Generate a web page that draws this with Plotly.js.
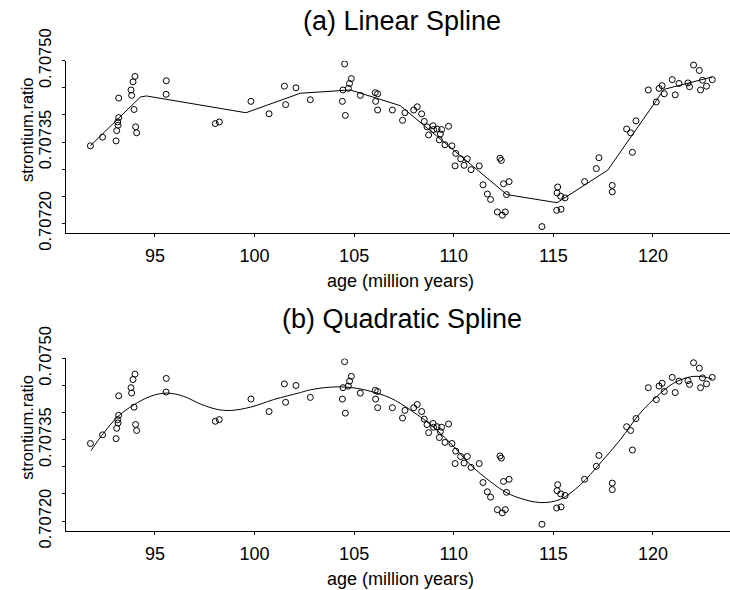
<!DOCTYPE html>
<html>
<head>
<meta charset="utf-8">
<script src="https://cdn.plot.ly/plotly-3.0.1.min.js"></script>
<style>html,body{margin:0;padding:0;background:#fff;}#chart{width:730px;height:590px;}</style>
</head>
<body>
<div id="chart"></div>
<script>
// observed fossil data: age (million years) and strontium ratio
var age = [91.76,92.37,93.05,93.08,93.13,93.15,93.18,93.18,93.80,93.83,93.90,94.00,93.95,94.03,94.08,95.57,95.56,98.03,98.23,99.82,100.73,101.50,101.56,102.08,102.80,104.52,104.44,104.41,104.56,104.71,104.77,104.86,105.31,106.06,106.18,106.08,106.18,106.92,107.43,107.55,107.99,108.17,108.39,108.52,108.66,108.74,108.96,108.99,109.16,109.33,109.28,109.39,109.56,109.74,109.91,110.10,110.07,110.35,110.52,110.68,110.87,111.28,111.47,111.69,111.85,112.19,112.44,112.59,112.32,112.39,112.50,112.78,112.65,114.43,115.22,115.19,115.37,115.59,115.17,115.39,116.57,117.16,117.29,117.96,117.96,118.68,118.88,119.15,118.97,119.77,120.17,120.31,120.46,120.57,120.97,121.12,121.31,121.76,121.84,122.04,122.33,122.39,122.49,122.69,122.98];
var strontium = [0.707343,0.707359,0.707352,0.707371,0.707387,0.707381,0.707395,0.707431,0.707446,0.707436,0.707461,0.707471,0.707410,0.707378,0.707367,0.707463,0.707438,0.707384,0.707387,0.707425,0.707402,0.707453,0.707419,0.707450,0.707428,0.707494,0.707446,0.707425,0.707399,0.707449,0.707458,0.707467,0.707436,0.707441,0.707439,0.707425,0.707409,0.707409,0.707390,0.707404,0.707409,0.707415,0.707402,0.707388,0.707378,0.707363,0.707380,0.707373,0.707374,0.707365,0.707354,0.707373,0.707345,0.707379,0.707343,0.707329,0.707306,0.707319,0.707307,0.707319,0.707299,0.707306,0.707271,0.707254,0.707244,0.707221,0.707215,0.707221,0.707320,0.707316,0.707273,0.707277,0.707253,0.707194,0.707267,0.707256,0.707250,0.707247,0.707224,0.707226,0.707277,0.707301,0.707321,0.707270,0.707258,0.707374,0.707367,0.707389,0.707331,0.707446,0.707424,0.707449,0.707454,0.707439,0.707465,0.707437,0.707458,0.707459,0.707452,0.707492,0.707482,0.707446,0.707464,0.707453,0.707465];

// linear spline fit (values at its knots)
var linAge = [91.76,94.27,94.57,99.57,102.30,104.81,107.32,112.67,115.19,117.73,120.20,120.54,122.98];
var linFit = [0.707343,0.707433,0.707435,0.707404,0.707440,0.707446,0.707417,0.707253,0.707238,0.707298,0.707428,0.707447,0.707470];

// quadratic spline fit
var quadAge = [91.79,92.42,93.18,93.93,94.77,95.61,96.44,97.28,98.12,98.79,99.79,100.96,102.30,102.80,103.80,104.64,105.64,106.82,107.82,108.83,109.83,110.83,111.83,112.67,113.34,114.35,115.35,116.36,117.36,118.36,119.36,120.20,121.03,121.88,122.54,122.98];
var quadFit = [0.707330,0.707362,0.707394,0.707414,0.707430,0.707436,0.707430,0.707416,0.707406,0.707404,0.707410,0.707424,0.707437,0.707442,0.707447,0.707447,0.707441,0.707427,0.707405,0.707378,0.707344,0.707304,0.707273,0.707252,0.707242,0.707234,0.707240,0.707267,0.707307,0.707350,0.707399,0.707430,0.707454,0.707466,0.707466,0.707462];

var xTicks = [95,100,105,110,115,120];
var yTicks = [0.70720,0.70725,0.70730,0.70735,0.70740,0.70745,0.70750];
var yTickText = ['0.70720','','','0.70735','','','0.70750'];
var titles = ['(a) Linear Spline','(b) Quadratic Spline'];
var xTitle = 'age (million years)';
var yTitle = 'strontium.ratio';

var W = 730, H = 590;
var FONT = 'Liberation Sans, Arial, sans-serif';
var NARROW = 'Liberation Sans Narrow, Arial Narrow, Liberation Sans, sans-serif';

var markerStyle = {symbol:'circle-open', size:6, color:'#000', line:{width:1, color:'#000'}};
var traces = [
  {x:age, y:strontium, mode:'markers', type:'scatter', marker:markerStyle, xaxis:'x', yaxis:'y'},
  {x:linAge, y:linFit, mode:'lines', type:'scatter', line:{color:'#000', width:1}, xaxis:'x', yaxis:'y'},
  {x:age, y:strontium, mode:'markers', type:'scatter', marker:markerStyle, xaxis:'x2', yaxis:'y2'},
  {x:quadAge, y:quadFit, mode:'lines', type:'scatter', line:{color:'#000', width:1, shape:'spline', smoothing:1}, xaxis:'x2', yaxis:'y2'}
];

function xAx(anchor){
  return {anchor:anchor, domain:[65.7/W, 1], range:[90.52,123.87], tickvals:xTicks, ticktext:xTicks.map(String),
    ticks:'outside', ticklen:3, tickwidth:1, tickcolor:'#000', showline:true, linecolor:'#000', linewidth:1,
    showgrid:false, zeroline:false, tickfont:{family:FONT, size:18, color:'#000'}, ticklabelstandoff:3};
}
function yAx(anchor, top, bottom){
  return {anchor:anchor, domain:[1-bottom/H, 1-top/H], range:[0.7071816,0.70750], tickvals:yTicks, ticktext:yTickText,
    tickangle:-90, ticks:'outside', ticklen:3, tickwidth:1, tickcolor:'#000', showline:true, linecolor:'#000', linewidth:1,
    showgrid:false, zeroline:false, tickfont:{family:NARROW, size:16.5, color:'#000'}, ticklabelstandoff:4};
}

var off = 297.7;
var ann = [];
[0,1].forEach(function(i){
  var d = i*off;
  ann.push({text:titles[i], xref:'paper', yref:'paper', x:401.7/W, y:1-(21+d)/H, xanchor:'center', yanchor:'middle', showarrow:false, font:{family:FONT, size:27, color:'#000'}});
  ann.push({text:xTitle, xref:'paper', yref:'paper', x:400.5/W, y:1-(281+d)/H, xanchor:'center', yanchor:'middle', showarrow:false, font:{family:FONT, size:18, color:'#000'}});
  ann.push({text:yTitle, xref:'paper', yref:'paper', x:27/W, y:1-(130+d)/H, xanchor:'center', yanchor:'middle', textangle:-90, showarrow:false, font:{family:NARROW, size:16.5, color:'#000'}});
});

var layout = {
  width:W, height:H, margin:{l:0,r:0,t:0,b:0}, showlegend:false,
  paper_bgcolor:'#fff', plot_bgcolor:'#fff',
  xaxis:xAx('y'), yaxis:yAx('x', 60.7, 233.3),
  xaxis2:xAx('y2'), yaxis2:yAx('x2', 60.7+off, 233.3+off),
  annotations:ann
};
Plotly.newPlot('chart', traces, layout, {displayModeBar:false, staticPlot:true});
</script>
</body>
</html>
